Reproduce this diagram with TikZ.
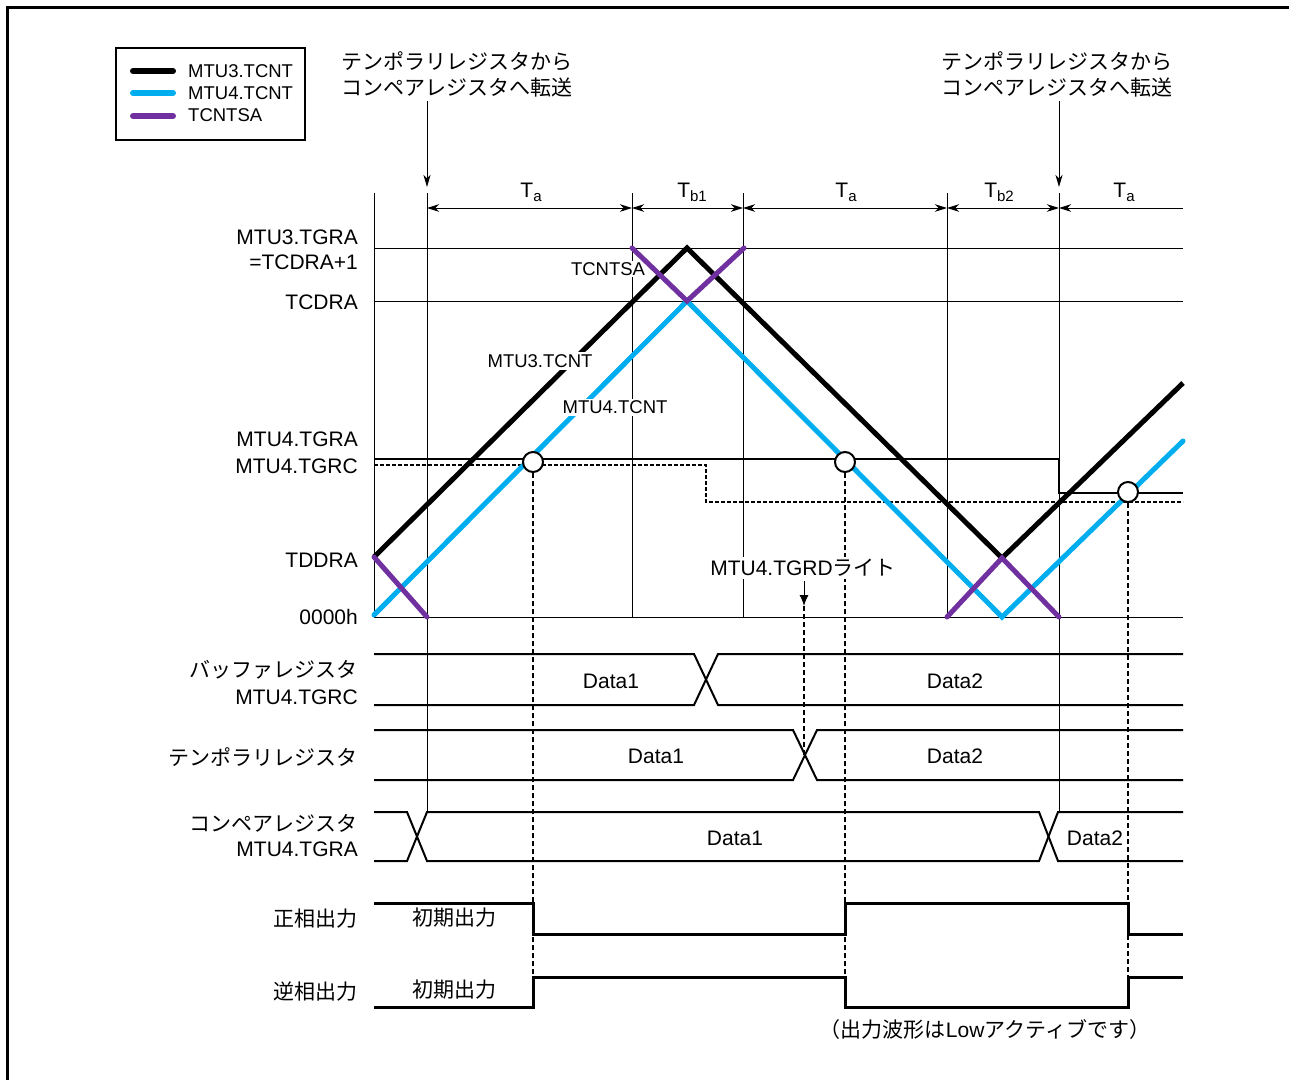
\documentclass[tikz,border=0pt]{standalone}
\usepackage{fontspec}
\setmainfont{Liberation Sans}
\newfontfamily\jp{Noto Sans CJK JP}
\usetikzlibrary{arrows.meta}
\definecolor{tcyan}{RGB}{0,174,239}
\definecolor{tpurple}{RGB}{112,48,160}
\newcommand{\sub}[1]{\raisebox{-4pt}{\fontsize{15}{15}\selectfont #1}}
\begin{document}
\begin{tikzpicture}[x=1pt,y=-1pt,
  thin/.style={line width=1pt},
  sig/.style={line width=2pt},
  outsig/.style={line width=3pt},
  wblack/.style={line width=5pt,black},
  wcyan/.style={line width=5pt,tcyan,line cap=round},
  wpurple/.style={line width=5pt,tpurple,line cap=round},
  vdash/.style={line width=1.5pt,dash pattern=on 5pt off 3pt},
  tip/.style={Stealth[length=12pt,width=7.5pt,inset=3.5pt]},
  dimline/.style={thin,{Stealth[length=12pt,width=7.5pt,inset=3.5pt]}-{Stealth[length=12pt,width=7.5pt,inset=3.5pt]}},
  lbl/.style={font=\fontsize{21}{26}\selectfont,inner sep=0pt},
  slbl/.style={font=\fontsize{18.5}{22}\selectfont,inner sep=0pt},
  mlbl/.style={font=\fontsize{18.5}{22}\selectfont,inner sep=2pt,fill=white},
  circ/.style={circle,draw,line width=2pt,fill=white,minimum size=20pt,inner sep=0pt}
]
\useasboundingbox (0,0) rectangle (1289,1079);
% frame
\draw[line width=3pt] (7,1085) -- (7,7) -- (1295,7);

% legend
\node[draw,line width=1.5pt,minimum width=189pt,minimum height=92pt,inner sep=0pt] (legend) at (210.5,94) {};
\draw[line width=6pt,line cap=round,black] (133,71) -- (173,71);
\draw[line width=6pt,line cap=round,tcyan] (133,93) -- (173,93);
\draw[line width=6pt,line cap=round,tpurple] (133,116) -- (173,116);
\node[slbl,anchor=west] (lg1) at (188,71.5) {MTU3.TCNT};
\node[slbl,anchor=west] (lg2) at (188,93.5) {MTU4.TCNT};
\node[slbl,anchor=west] (lg3) at (188,115.5) {TCNTSA};

% annotations
\node[lbl,align=left,font=\jp\fontsize{21}{26}\selectfont] (ann1) at (457,74) {テンポラリレジスタから\\コンペアレジスタへ転送};
\node[lbl,align=left,font=\jp\fontsize{21}{26}\selectfont] (ann2) at (1057,74) {テンポラリレジスタから\\コンペアレジスタへ転送};
\coordinate (a1) at (427,187);
\coordinate (a2) at (1059,187);
\draw[thin,-{Stealth[length=12pt,width=7pt,inset=3.5pt]}] (427,101) -- (a1);
\draw[thin,-{Stealth[length=12pt,width=7pt,inset=3.5pt]}] (1059,101) -- (a2);

% vertical grid lines
\foreach \x in {374,632,743,947} \draw[thin] (\x,193) -- (\x,617);
\draw[thin] (427,193) -- (427,812);
\draw[thin] (1059,193) -- (1059,812);
% horizontal grid lines
\foreach \y in {248,301,617} \draw[thin] (374,\y) -- (1183,\y);

% dimension lines
\draw[dimline] (427,208) -- (632,208);
\draw[dimline] (632,208) -- (743,208);
\draw[dimline] (743,208) -- (947,208);
\draw[dimline] (947,208) -- (1059,208);
\draw[thin,{Stealth[length=12pt,width=7.5pt,inset=3.5pt]}-] (1059,208) -- (1183,208);
\node[lbl,anchor=base] (ta1) at (531,197) {T\sub{a}};
\node[lbl,anchor=base] (tb1) at (692,197) {T\sub{b1}};
\node[lbl,anchor=base] (ta2) at (846,197) {T\sub{a}};
\node[lbl,anchor=base] (tb2) at (999,197) {T\sub{b2}};
\node[lbl,anchor=base] (ta3) at (1124,197) {T\sub{a}};

% axis labels
\node[lbl,anchor=east] (l1) at (358,237.5) {MTU3.TGRA};
\node[lbl,anchor=east] (l2) at (358,262) {=TCDRA+1};
\node[lbl,anchor=east] (l3) at (358,302.5) {TCDRA};
\node[lbl,anchor=east] (l4) at (358,439.5) {MTU4.TGRA};
\node[lbl,anchor=east] (l5) at (358,466) {MTU4.TGRC};
\node[lbl,anchor=east] (l6) at (358,560) {TDDRA};
\node[lbl,anchor=east] (l7) at (358,617) {0000h};

% compare levels
\draw[sig] (374,459) -- (1059,459) -- (1059,493) -- (1183,493);
\draw[sig,dash pattern=on 4pt off 2pt] (374,465) -- (706,465) -- (706,502) -- (1183,502);

% TCNTSA label (covers grid line only)
\node[mlbl,inner sep=1pt] (nsa) at (608,269) {TCNTSA};

% waveforms
\draw[wcyan] (374,615) -- (687,301) -- (1002,617) -- (1183,441);
\draw[wblack] (374,557) -- (687,248) -- (1002,558) -- (1183,383);
\draw[wpurple] (374,557) -- (427,617);
\draw[wpurple] (632,248) -- (687,301) -- (744,248);
\draw[wpurple] (947,617) -- (1002,558) -- (1059,617);

% labels on waveforms
\node[mlbl] (n3) at (540,361) {MTU3.TCNT};
\node[mlbl] (n4) at (615,407.5) {MTU4.TCNT};

% compare-match points and dashed drop lines
\node[circ] (c1) at (533,462) {};
\node[circ] (c2) at (845,462) {};
\node[circ] (c3) at (1128,492) {};
\draw[vdash] (c1.south) -- (533,977);
\draw[vdash] (c2.south) -- (845,977);
\draw[vdash] (c3.south) -- (1128,977);

% TGRD write
\node[lbl,fill=white,inner sep=2pt] (tgrd) at (803,568) {MTU4.TGRD{\jp ライト}};
\coordinate (wr) at (804,606);
\draw[thin,-{Latex[length=11pt,width=9pt]}] (804,581) -- (wr);
\draw[vdash] (wr) -- (804,755);

% register rows
\draw[sig] (374,654) -- (694,654) -- (718,705) -- (1183,705);
\draw[sig] (374,705) -- (694,705) -- (718,654) -- (1183,654);
\draw[sig] (374,730) -- (793,730) -- (817,780) -- (1183,780);
\draw[sig] (374,780) -- (793,780) -- (817,730) -- (1183,730);
\draw[sig] (374,812) -- (407,812) -- (427,861) -- (1039,861) -- (1058,812) -- (1183,812);
\draw[sig] (374,861) -- (407,861) -- (427,812) -- (1039,812) -- (1058,861) -- (1183,861);
\node[lbl] (d11) at (611,681) {Data1};
\node[lbl] (d12) at (955,681) {Data2};
\node[lbl] (d21) at (656,756) {Data1};
\node[lbl] (d22) at (955,756) {Data2};
\node[lbl] (d31) at (735,838) {Data1};
\node[lbl] (d32) at (1095,838) {Data2};

\node[lbl,anchor=east,font=\jp\fontsize{21}{26}\selectfont] (r1a) at (358,670) {バッファレジスタ};
\node[lbl,anchor=east] (r1b) at (358,697.5) {MTU4.TGRC};
\node[lbl,anchor=east,font=\jp\fontsize{21}{26}\selectfont] (r2) at (358,757) {テンポラリレジスタ};
\node[lbl,anchor=east,font=\jp\fontsize{21}{26}\selectfont] (r3a) at (358,823) {コンペアレジスタ};
\node[lbl,anchor=east] (r3b) at (358,849) {MTU4.TGRA};

% outputs
\draw[outsig] (374,903) -- (533,903) -- (533,934) -- (845,934) -- (845,903) -- (1128,903) -- (1128,934) -- (1183,934);
\draw[outsig] (374,1007) -- (533,1007) -- (533,977) -- (845,977) -- (845,1007) -- (1128,1007) -- (1128,977) -- (1183,977);
\node[lbl,anchor=east,font=\jp\fontsize{21}{26}\selectfont] (o1) at (358,919) {正相出力};
\node[lbl,anchor=east,font=\jp\fontsize{21}{26}\selectfont] (o2) at (358,992) {逆相出力};
\node[lbl,font=\jp\fontsize{21}{26}\selectfont] (i1) at (454,918) {初期出力};
\node[lbl,font=\jp\fontsize{21}{26}\selectfont] (i2) at (454,990) {初期出力};
\node[lbl] (note) at (985,1029) {{\jp （出力波形は}Low{\jp アクティブです）}};
\end{tikzpicture}
\end{document}
